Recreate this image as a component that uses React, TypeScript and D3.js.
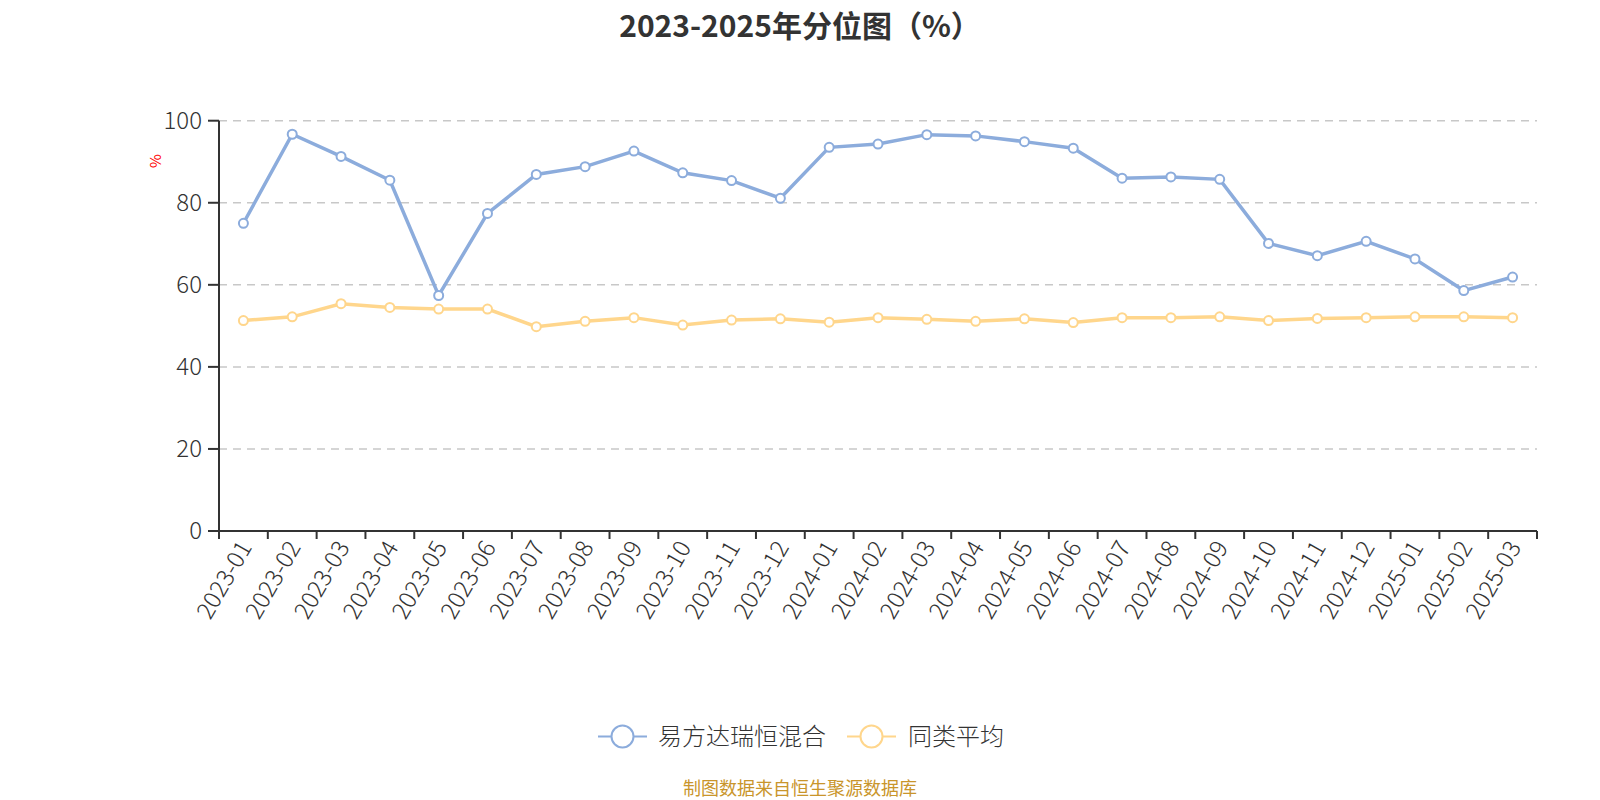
import * as d3 from "d3";

const months = [
  "2023-01", "2023-02", "2023-03", "2023-04", "2023-05", "2023-06", "2023-07",
  "2023-08", "2023-09", "2023-10", "2023-11", "2023-12", "2024-01", "2024-02",
  "2024-03", "2024-04", "2024-05", "2024-06", "2024-07", "2024-08", "2024-09",
  "2024-10", "2024-11", "2024-12", "2025-01", "2025-02", "2025-03",
];

const fundValues = [
  75.0, 96.7, 91.3, 85.5, 57.4, 77.4, 86.9, 88.8, 92.6, 87.3, 85.4, 81.1, 93.5, 94.3,
  96.6, 96.3, 94.9, 93.3, 86.0, 86.3, 85.7, 70.1, 67.1, 70.6, 66.3, 58.6, 61.9,
];

const avgValues = [
  51.3, 52.2, 55.4, 54.5, 54.1, 54.1, 49.8, 51.1, 52.0, 50.2, 51.4, 51.7, 50.9, 52.0,
  51.6, 51.1, 51.7, 50.8, 52.0, 52.0, 52.2, 51.3, 51.8, 52.0, 52.2, 52.2, 52.0,
];

const yTicks = [0, 20, 40, 60, 80, 100];

const seriesNames = ["易方达瑞恒混合", "同类平均"];

const W = 1600;
const H = 800;
const LEFT = 219;
const RIGHT = 1537;
const TOP = 120.7;
const BOTTOM = 531;
const FONT = "'Noto Sans CJK SC', 'Noto Sans', sans-serif";
const BLUE = "#8cacdc";
const YELLOW = "#ffd68c";

export default function App() {
  const x = d3.scaleBand().domain(months).range([LEFT, RIGHT]).padding(0);
  const y = d3.scaleLinear().domain([0, 100]).range([BOTTOM, TOP]);
  const cx = (m: string) => (x(m) ?? 0) + x.bandwidth() / 2;

  const line = d3
    .line<number>()
    .x((_, i) => cx(months[i]))
    .y((d) => y(d));

  const series = [
    { name: seriesNames[0], values: fundValues, color: BLUE },
    { name: seriesNames[1], values: avgValues, color: YELLOW },
  ];

  // legend layout
  const legendY = 736.5;
  const legendItems = [
    { x: 598, textX: 658, ...series[0] },
    { x: 847, textX: 908, ...series[1] },
  ];

  const boundaries = months.map((m) => x(m) ?? 0).concat([RIGHT]);

  return (
    <div style={{ position: "fixed", left: 0, top: 0 }}>
      <svg width={W} height={H} style={{ display: "block", background: "#fff" }} fontFamily={FONT}>
        <text x={800} y={37} textAnchor="middle" fontSize={30} fontWeight="bold" fill="#333">
          2023-2025年分位图（%）
        </text>

        {/* grid */}
        {yTicks.filter((t) => t > 0).map((t) => (
          <line
            key={t}
            x1={LEFT}
            x2={RIGHT}
            y1={y(t)}
            y2={y(t)}
            stroke="#c8c8c8"
            strokeWidth={1.5}
            strokeDasharray="8,6"
          />
        ))}

        {/* y axis */}
        <line x1={LEFT} x2={LEFT} y1={TOP} y2={BOTTOM} stroke="#333" strokeWidth={2} />
        {yTicks.map((t) => (
          <g key={t}>
            <line x1={LEFT - 11} x2={LEFT} y1={y(t)} y2={y(t)} stroke="#333" strokeWidth={2} />
            <text
              x={LEFT - 17}
              y={y(t)}
              dy="0.35em"
              textAnchor="end"
              fontSize={24}
              fontWeight={300}
              fill="#333"
            >
              {t}
            </text>
          </g>
        ))}
        <text
          transform={`translate(156,161) rotate(-90)`}
          textAnchor="middle"
          dy="0.35em"
          fontSize={15}
          fill="#ff0000"
        >
          %
        </text>

        {/* x axis */}
        <line x1={LEFT} x2={RIGHT} y1={BOTTOM} y2={BOTTOM} stroke="#333" strokeWidth={2} />
        {boundaries.map((b, i) => (
          <line key={i} x1={b} x2={b} y1={BOTTOM} y2={BOTTOM + 8} stroke="#333" strokeWidth={2} />
        ))}
        {months.map((m) => (
          <text
            key={m}
            transform={`translate(${cx(m) + 2},${BOTTOM + 12}) rotate(-60)`}
            textAnchor="end"
            dy="0.35em"
            fontSize={24}
            fontWeight={300}
            fill="#333"
          >
            {m}
          </text>
        ))}

        {/* series */}
        {series.map((s) => (
          <g key={s.name}>
            <path d={line(s.values) ?? ""} fill="none" stroke={s.color} strokeWidth={3.5} />
            {s.values.map((v, i) => (
              <circle
                key={i}
                cx={cx(months[i])}
                cy={y(v)}
                r={4.5}
                fill="#fff"
                stroke={s.color}
                strokeWidth={2}
              />
            ))}
          </g>
        ))}

        {/* legend */}
        {legendItems.map((it) => (
          <g key={it.name}>
            <line
              x1={it.x}
              x2={it.x + 49}
              y1={legendY}
              y2={legendY}
              stroke={it.color}
              strokeWidth={2}
            />
            <circle cx={it.x + 24.5} cy={legendY} r={11} fill="#fff" stroke={it.color} strokeWidth={2} />
            <text x={it.textX} y={legendY} dy="0.35em" fontSize={24} fontWeight={300} fill="#333">
              {it.name}
            </text>
          </g>
        ))}

        <text x={800} y={789} dy="0.35em" textAnchor="middle" fontSize={18} fill="#c9952b">
          制图数据来自恒生聚源数据库
        </text>
      </svg>
    </div>
  );
}
